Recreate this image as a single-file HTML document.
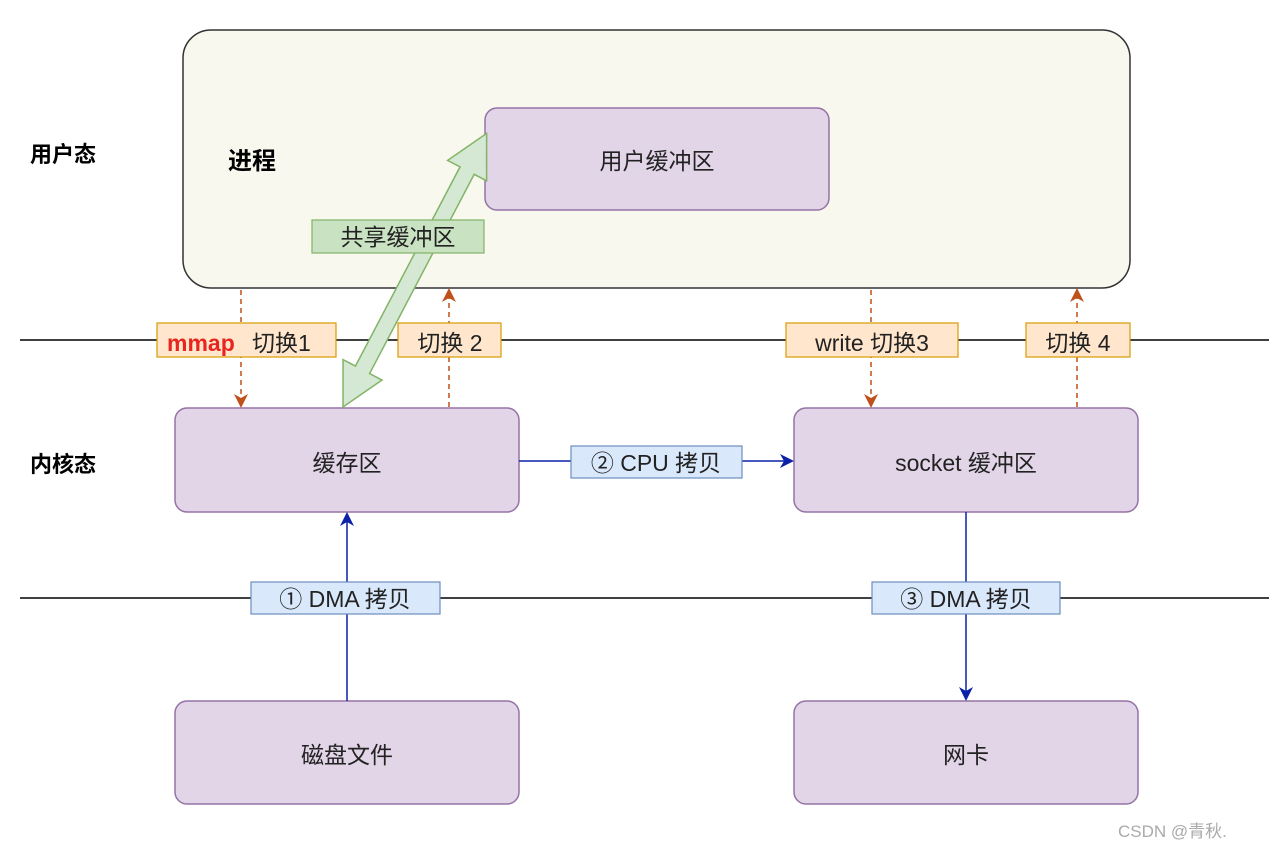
<!DOCTYPE html>
<html><head><meta charset="utf-8"><style>
body{margin:0;width:1269px;height:851px;background:#fff;overflow:hidden}
svg text{font-family:"Liberation Sans","Noto Sans CJK SC",sans-serif}
</style></head><body>
<svg width="1269" height="851" viewBox="0 0 1269 851" xmlns="http://www.w3.org/2000/svg">
<defs>
<marker id="ab" markerWidth="14" markerHeight="14" refX="12" refY="7" orient="auto" markerUnits="userSpaceOnUse"><path d="M0,0 L14,7 L0,14 L4,7 Z" fill="#0b22a8"/></marker>
<marker id="ao" markerWidth="14" markerHeight="14" refX="12" refY="7" orient="auto" markerUnits="userSpaceOnUse"><path d="M0,0 L14,7 L0,14 L4,7 Z" fill="#c0501a"/></marker>
</defs>
<line x1="20" y1="340" x2="1269" y2="340" stroke="#000" stroke-width="1.5"/>
<line x1="20" y1="598" x2="1269" y2="598" stroke="#000" stroke-width="1.5"/>
<rect x="183" y="30" width="947" height="258" rx="28" fill="#f8f8ee" stroke="#333" stroke-width="1.5"/>
<text x="30" y="162" font-size="22" font-weight="bold">用户态</text>
<text x="30" y="472" font-size="22" font-weight="bold">内核态</text>
<text x="228" y="169" font-size="24" font-weight="bold">进程</text>
<rect x="485" y="108" width="344" height="102" rx="12" fill="#e1d5e7" stroke="#9673a6" stroke-width="1.5"/>
<text x="657" y="169" font-size="23" text-anchor="middle" fill="#222">用户缓冲区</text>
<line x1="241" y1="290" x2="241" y2="406" stroke="#c0501a" stroke-width="1.5" stroke-dasharray="5,4" marker-end="url(#ao)"/>
<line x1="449" y1="407" x2="449" y2="290" stroke="#c0501a" stroke-width="1.5" stroke-dasharray="5,4" marker-end="url(#ao)"/>
<line x1="871" y1="290" x2="871" y2="406" stroke="#c0501a" stroke-width="1.5" stroke-dasharray="5,4" marker-end="url(#ao)"/>
<line x1="1077" y1="407" x2="1077" y2="290" stroke="#c0501a" stroke-width="1.5" stroke-dasharray="5,4" marker-end="url(#ao)"/>
<rect x="175" y="408" width="344" height="104" rx="12" fill="#e1d5e7" stroke="#9673a6" stroke-width="1.5"/>
<text x="347" y="471" font-size="23" text-anchor="middle" fill="#222">缓存区</text>
<rect x="794" y="408" width="344" height="104" rx="12" fill="#e1d5e7" stroke="#9673a6" stroke-width="1.5"/>
<text x="966" y="471" font-size="23" text-anchor="middle" fill="#222">socket 缓冲区</text>
<rect x="175" y="701" width="344" height="103" rx="12" fill="#e1d5e7" stroke="#9673a6" stroke-width="1.5"/>
<text x="347" y="763" font-size="23" text-anchor="middle" fill="#222">磁盘文件</text>
<rect x="794" y="701" width="344" height="103" rx="12" fill="#e1d5e7" stroke="#9673a6" stroke-width="1.5"/>
<text x="966" y="763" font-size="23" text-anchor="middle" fill="#222">网卡</text>
<line x1="519" y1="461" x2="792" y2="461" stroke="#0b22a8" stroke-width="1.5" marker-end="url(#ab)"/>
<line x1="347" y1="701" x2="347" y2="514" stroke="#0b22a8" stroke-width="1.5" marker-end="url(#ab)"/>
<line x1="966" y1="512" x2="966" y2="699" stroke="#0b22a8" stroke-width="1.5" marker-end="url(#ab)"/>
<g transform="translate(343,407) rotate(-62.3)">
<polygon points="0,0 42,-22 42,-8 267,-8 267,-22 309,0 267,22 267,8 42,8 42,22" fill="#d5e8d4" stroke="#82b366" stroke-width="1.5"/>
</g>
<rect x="312" y="220" width="172" height="33" fill="#c9e2c2" stroke="#82b366" stroke-width="1.2"/>
<text x="398" y="245" font-size="23" text-anchor="middle" fill="#222">共享缓冲区</text>
<rect x="157" y="323" width="179" height="34" fill="#ffe6cc" stroke="#d79b00" stroke-width="1.2"/>
<text x="167" y="351" font-size="23" font-weight="bold" fill="#e8251e">mmap</text>
<text x="252" y="351" font-size="23" fill="#222">切换1</text>
<rect x="398" y="323" width="103" height="34" fill="#ffe6cc" stroke="#d79b00" stroke-width="1.2"/>
<text x="450" y="351" font-size="23" text-anchor="middle" fill="#222">切换 2</text>
<rect x="786" y="323" width="172" height="34" fill="#ffe6cc" stroke="#d79b00" stroke-width="1.2"/>
<text x="872" y="351" font-size="23" text-anchor="middle" fill="#222">write 切换3</text>
<rect x="1026" y="323" width="104" height="34" fill="#ffe6cc" stroke="#d79b00" stroke-width="1.2"/>
<text x="1078" y="351" font-size="23" text-anchor="middle" fill="#222">切换 4</text>
<rect x="571" y="446" width="171" height="32" fill="#dae8fc" stroke="#6c8ebf" stroke-width="1.2"/>
<text x="656" y="471" font-size="23" text-anchor="middle" fill="#222">② CPU 拷贝</text>
<rect x="251" y="582" width="189" height="32" fill="#dae8fc" stroke="#6c8ebf" stroke-width="1.2"/>
<text x="345" y="607" font-size="23" text-anchor="middle" fill="#222">① DMA 拷贝</text>
<rect x="872" y="582" width="188" height="32" fill="#dae8fc" stroke="#6c8ebf" stroke-width="1.2"/>
<text x="966" y="607" font-size="23" text-anchor="middle" fill="#222">③ DMA 拷贝</text>
<text x="1118" y="837" font-size="17" fill="#aaa">CSDN @青秋.</text>
</svg>
</body></html>
